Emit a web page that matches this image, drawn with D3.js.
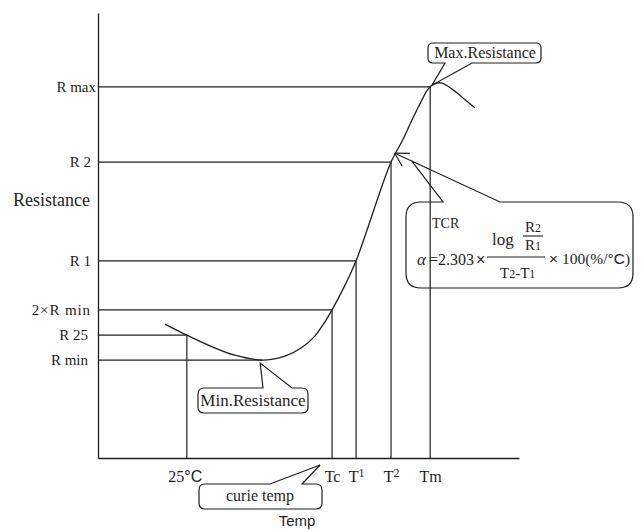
<!DOCTYPE html>
<html><head><meta charset="utf-8">
<script src="https://cdn.jsdelivr.net/npm/d3@7"></script>
<style>
html,body{margin:0;padding:0;background:#fff;}
svg{display:block;}
</style></head><body>
<svg id="chart" width="641" height="530"></svg>
<script>
// Temperature markers on the horizontal axis (relative units)
const tempLabels = ["25°C", "Tc", "T1", "T2", "Tm"];
const tempValues = [21.1, 55.6, 61.3, 69.6, 78.9];
// Resistance reached at each temperature marker
const tempRes = [27.6, 33.3, 44.3, 66.5, 83.4];

// Resistance levels on the vertical axis (relative units)
const resLabels = ["R max", "R 2", "R 1", "2×R min", "R 25", "R min"];
const resValues = [83.4, 66.5, 44.3, 33.3, 27.6, 22.0];
const resTemp = [78.9, 69.6, 61.3, 55.6, 21.1, 39.0];

// Resistance–temperature characteristic of the PTC element
const curveTemp = [15.9, 21.1, 26.6, 32.5, 39.0, 44.4, 48.5, 51.5, 53.9, 55.6, 58.7, 61.3, 69.6, 72.4, 74.6, 76.7, 78.4, 79.8, 81.5, 84.1, 86.7, 89.5];
const curveRes  = [30.1, 27.6, 25.2, 23.1, 22.0, 22.9, 24.9, 27.4, 30.6, 33.3, 38.9, 44.3, 66.5, 71.5, 76.0, 80.0, 82.9, 84.0, 84.3, 82.9, 80.9, 78.7];

const minPoint = [39.0, 22.0];
const maxPoint = [79.8, 84.0];
const tcrPoint = [70.5, 68.5];

const SERIF = "'Liberation Serif','Times New Roman',serif";
const SANS = "'Liberation Sans',Arial,sans-serif";
const INK = "#1e1e1e";

const svg = d3.select("#chart");
const x = d3.scaleLinear().domain([0, 100]).range([98, 519]);
const y = d3.scaleLinear().domain([0, 100]).range([458, 13]);

// guide lines from the axes to the curve
const guides = svg.append("g").attr("stroke", INK).attr("stroke-width", 1.2).attr("fill", "none");
resValues.forEach((r, i) => {
  guides.append("line").attr("x1", x(0)).attr("x2", x(resTemp[i])).attr("y1", y(r)).attr("y2", y(r));
});
tempValues.forEach((t, i) => {
  guides.append("line").attr("x1", x(t)).attr("x2", x(t)).attr("y1", y(0)).attr("y2", y(tempRes[i]));
});

// axes
const yAxis = svg.append("g").attr("transform", `translate(${x(0)},0)`)
  .call(d3.axisLeft(y).tickValues(resValues).tickFormat((d, i) => resLabels[i]).tickSize(0).tickSizeOuter(0).tickPadding(7));
const xAxis = svg.append("g").attr("transform", `translate(0,${y(0)})`)
  .call(d3.axisBottom(x).tickValues(tempValues).tickFormat((d, i) => tempLabels[i]).tickSize(0).tickSizeOuter(0).tickPadding(10));
[yAxis, xAxis].forEach(g => {
  g.select(".domain").attr("stroke", INK).attr("stroke-width", 1.3);
  g.selectAll("text").attr("fill", INK).attr("font-family", SERIF).attr("font-size", 15);
});
yAxis.selectAll(".tick text").each(function (d, i) {
  const t = d3.select(this);
  if (resLabels[i] === "R max") t.attr("dx", 5);
  if (resLabels[i] === "2×R min") t.attr("letter-spacing", 0.9);
  if (resLabels[i] === "R 25" || resLabels[i] === "R min") t.attr("dx", -3);
});

// temperature labels with degree sign and superscripts
xAxis.selectAll(".tick text").each(function (d, i) {
  const t = d3.select(this).text("").attr("font-size", 16).attr("dy", "0.85em");
  const lab = tempLabels[i];
  if (lab === "25°C") {
    t.attr("dx", -2);
    t.append("tspan").text("25");
    t.append("tspan").attr("font-family", SANS).text("°C");
  } else if (lab === "T1" || lab === "T2") {
    t.append("tspan").text("T");
    t.append("tspan").attr("font-size", 12).attr("dy", "-0.4em").text(lab[1]);
  } else {
    t.text(lab);
  }
});

// axis titles
svg.append("text").attr("x", 13).attr("y", 206).attr("font-family", SERIF).attr("font-size", 18)
  .attr("fill", INK).text("Resistance");
svg.append("text").attr("x", 297).attr("y", 526).attr("text-anchor", "middle").attr("font-family", SANS)
  .attr("font-size", 15).attr("fill", INK).text("Temp");

// characteristic curve
const line = d3.line().x(d => x(d[0])).y(d => y(d[1])).curve(d3.curveCatmullRom.alpha(0.5));
svg.append("path").datum(curveTemp.map((t, i) => [t, curveRes[i]]))
  .attr("d", line).attr("fill", "none").attr("stroke", INK).attr("stroke-width", 1.3);

// rounded callout box with a wedge on its top or bottom edge
function callout(bx, by, w, h, r, side, w1, w2, tip) {
  const p = d3.path();
  if (side === "top") {
    p.moveTo(bx + r, by);
    p.lineTo(w1, by); p.lineTo(tip[0], tip[1]); p.lineTo(w2, by);
    p.lineTo(bx + w - r, by);
    p.quadraticCurveTo(bx + w, by, bx + w, by + r);
    p.lineTo(bx + w, by + h - r);
    p.quadraticCurveTo(bx + w, by + h, bx + w - r, by + h);
    p.lineTo(bx + r, by + h);
    p.quadraticCurveTo(bx, by + h, bx, by + h - r);
    p.lineTo(bx, by + r);
    p.quadraticCurveTo(bx, by, bx + r, by);
  } else {
    p.moveTo(bx + r, by);
    p.lineTo(bx + w - r, by);
    p.quadraticCurveTo(bx + w, by, bx + w, by + r);
    p.lineTo(bx + w, by + h - r);
    p.quadraticCurveTo(bx + w, by + h, bx + w - r, by + h);
    p.lineTo(w2, by + h); p.lineTo(tip[0], tip[1]); p.lineTo(w1, by + h);
    p.lineTo(bx + r, by + h);
    p.quadraticCurveTo(bx, by + h, bx, by + h - r);
    p.lineTo(bx, by + r);
    p.quadraticCurveTo(bx, by, bx + r, by);
  }
  p.closePath();
  svg.append("path").attr("d", p.toString()).attr("fill", "none").attr("stroke", INK).attr("stroke-width", 1.2);
}
function label(tx, ty, txt, size, font) {
  return svg.append("text").attr("x", tx).attr("y", ty).attr("text-anchor", "middle")
    .attr("font-family", font || SERIF).attr("font-size", size).attr("fill", INK).text(txt);
}

// Max.Resistance
callout(428, 43, 113, 20, 5, "bottom", 445, 472, [x(maxPoint[0]) - 2, y(maxPoint[1]) + 1]);
label(485, 58, "Max.Resistance", 16);

// Min.Resistance
callout(198, 388, 110, 25, 6, "top", 263, 292, [x(minPoint[0]) - 2, y(minPoint[1]) + 3]);
label(253, 406, "Min.Resistance", 17);

// curie temp
callout(199, 484, 123, 25, 6, "top", 270, 302, [x(tempValues[1]) - 12, y(0) + 7]);
label(260, 501, "curie temp", 16);

// TCR box with arrow to the steep part of the curve
const tip = [x(tcrPoint[0]), y(tcrPoint[1])];
const tail = [500, 202];
const apexT = 0.84;
const apex = [tail[0] + (tip[0] - tail[0]) * apexT, tail[1] + (tip[1] - tail[1]) * apexT];
callout(406, 202, 227, 86, 15, "top", 443, 500, apex);
const ang = Math.atan2(tail[1] - tip[1], tail[0] - tip[0]);
const arrow = svg.append("g").attr("stroke", INK).attr("stroke-width", 1.2).attr("fill", "none");
arrow.append("line").attr("x1", apex[0]).attr("y1", apex[1]).attr("x2", tip[0]).attr("y2", tip[1]);
[-0.42, 0.62].forEach(da => {
  arrow.append("line").attr("x1", tip[0]).attr("y1", tip[1])
    .attr("x2", tip[0] + 15 * Math.cos(ang + da)).attr("y2", tip[1] + 15 * Math.sin(ang + da));
});

// TCR formula
const f = svg.append("g").attr("fill", INK).attr("font-family", SERIF);
f.append("text").attr("x", 432).attr("y", 228).attr("font-size", 14).text("TCR");
f.append("text").attr("x", 417).attr("y", 265).attr("font-size", 17).attr("font-style", "italic").text("α");
f.append("text").attr("x", 429).attr("y", 265).attr("font-size", 16).text("=2.303");
f.append("text").attr("x", 476).attr("y", 265).attr("font-size", 16).attr("font-family", SANS).text("×");
f.append("line").attr("x1", 487).attr("x2", 545).attr("y1", 257).attr("y2", 257).attr("stroke", INK).attr("stroke-width", 1.2);
f.append("text").attr("x", 492).attr("y", 245).attr("font-size", 17).text("log");
const r2 = f.append("text").attr("x", 525).attr("y", 232).attr("font-size", 15);
r2.append("tspan").text("R"); r2.append("tspan").attr("font-size", 12).text("2");
f.append("line").attr("x1", 523).attr("x2", 543).attr("y1", 236).attr("y2", 236).attr("stroke", INK).attr("stroke-width", 1.1);
const r1 = f.append("text").attr("x", 525).attr("y", 250).attr("font-size", 15);
r1.append("tspan").text("R"); r1.append("tspan").attr("font-size", 12).text("1");
const tt = f.append("text").attr("x", 500).attr("y", 278).attr("font-size", 15);
tt.append("tspan").text("T"); tt.append("tspan").attr("font-size", 12).text("2");
tt.append("tspan").text("-T"); tt.append("tspan").attr("font-size", 12).text("1");
const unit = f.append("text").attr("x", 549).attr("y", 264).attr("font-size", 15.5);
unit.append("tspan").attr("font-family", SANS).text("×");
unit.append("tspan").text(" 100(%/");
unit.append("tspan").attr("font-family", SANS).text("°C");
unit.append("tspan").text(")");
</script>
</body></html>
